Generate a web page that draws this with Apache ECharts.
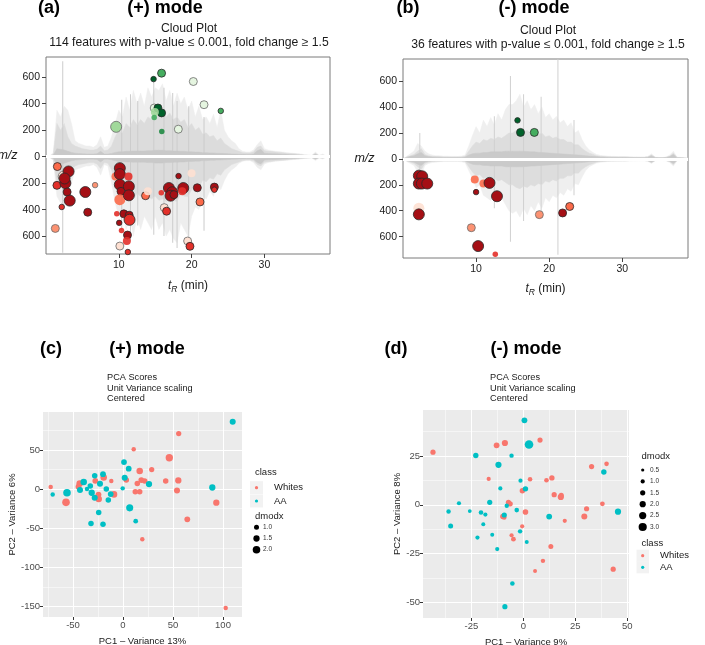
<!DOCTYPE html>
<html><head><meta charset="utf-8">
<script src="https://cdn.jsdelivr.net/npm/echarts@6/dist/echarts.min.js"></script>
<style>html,body{margin:0;padding:0;background:#fff}#c{width:705px;height:645px}</style>
</head><body><div id="c"></div>
<script>
// ---------- DATA ----------
// retention-time grid for the gray "cloud" traces (min)
const rtGrid = [0,0.5,1,1.5,2,2.5,3,3.5,4,4.5,5,5.5,6,6.5,7,7.5,8,8.5,9,9.5,10,10.5,11,11.5,12,12.5,13,13.5,14,14.5,15,15.5,16,16.5,17,17.5,18,18.5,19,19.5,20,20.5,21,21.5,22,22.5,23,23.5,24,24.5,25,25.5,26,26.5,27,27.5,28,28.5,29,29.5,30,30.5,31,31.5,32,32.5,33,33.5,34,34.5,35,35.5,36,36.5,37,37.5,38,38.5,39];
// panel (a) cloud envelopes
const outerUpA = [0,5,30,350,300,380,350,250,120,100,90,80,80,70,90,150,70,80,150,250,350,300,450,350,500,400,480,380,520,450,520,500,550,420,500,380,480,400,450,350,420,300,380,280,300,250,320,220,350,200,150,120,100,60,40,35,35,50,90,120,60,50,45,40,38,35,30,28,25,22,20,15,12,10,35,10,20,5,0];
const outerDnA = [0,5,30,300,350,380,300,200,100,90,80,70,70,60,80,140,60,70,200,350,450,400,550,450,600,450,550,450,500,550,450,550,500,600,550,620,650,500,550,600,450,380,400,300,320,260,300,200,250,180,130,100,80,50,35,30,30,45,80,100,55,45,40,35,32,30,28,25,22,20,18,14,12,10,30,10,18,5,0];
const innerUpA = [0,5,20,250,200,250,150,100,80,70,60,55,50,50,55,80,45,50,80,150,200,180,250,220,280,240,280,250,300,280,350,320,350,300,330,280,300,260,280,220,250,200,220,170,180,150,160,120,140,100,80,60,50,40,30,28,28,35,70,80,45,40,38,35,32,30,26,24,22,20,16,12,10,8,25,8,12,4,0];
const innerDnA = [0,5,20,200,220,250,150,100,70,60,55,50,45,45,55,90,45,50,100,200,260,240,300,260,320,280,300,270,300,320,300,330,320,340,320,330,340,280,300,300,250,220,230,180,190,160,170,130,140,100,80,60,50,40,30,26,26,32,60,70,42,38,35,32,30,28,25,22,20,18,15,12,10,8,22,8,12,4,0];
const baseA = [0,6,12,60,55,50,40,32,26,24,22,20,19,19,22,40,19,19,24,32,36,36,40,40,42,42,42,42,45,45,48,48,48,45,45,42,42,40,40,36,36,34,34,30,30,28,28,25,25,24,22,20,19,18,17,16,16,20,45,55,26,24,22,21,20,18,17,15,14,12,10,8,7,6,18,6,9,3,0];
const spikeRtA = [2.3, 10.4, 11.6, 12.6, 14.8, 16.2, 17.4, 18.0, 19.6, 21.7];
const spikeUpA = [720, 430, 470, 420, 590, 520, 480, 420, 380, 300];
const spikeDnA = [725, 560, 640, 520, 590, 600, 650, 690, 680, 560];
// panel (b) cloud envelopes
const outerUpB = [0,20,40,60,120,100,60,40,30,25,25,22,22,20,20,20,22,30,100,180,250,200,300,250,320,260,350,300,380,420,420,450,500,400,450,380,420,350,400,320,350,300,330,280,300,250,280,200,220,150,100,70,50,35,28,25,22,20,20,18,18,18,17,16,15,15,15,20,40,15,12,12,15,30,60,15,12,10,5];
const outerDnB = [0,20,35,50,100,120,50,35,28,25,22,20,20,20,20,20,22,30,90,150,220,200,280,300,320,280,330,300,350,400,420,400,450,380,430,360,400,330,380,300,330,280,300,260,280,230,250,190,200,140,90,60,45,32,26,23,20,18,18,17,17,17,16,15,15,14,14,18,35,14,12,12,14,28,55,14,12,10,5];
const innerB = [0,15,25,35,60,80,35,25,20,18,18,16,16,15,15,15,16,20,60,100,130,120,150,140,160,150,170,160,180,200,200,220,230,210,220,200,210,190,200,170,180,160,170,150,150,130,130,110,110,80,60,45,35,25,20,18,16,15,15,14,14,14,13,12,12,12,12,15,30,12,10,10,12,20,45,12,10,8,4];
const baseB = [0,12,20,25,40,50,25,18,15,14,13,12,12,12,12,12,12,15,30,40,45,45,50,50,55,55,55,55,60,60,60,60,60,60,58,55,55,52,50,48,46,44,42,40,38,36,34,32,30,28,25,22,20,18,16,15,14,14,13,13,13,13,12,12,12,12,12,14,25,12,10,10,12,18,35,10,10,8,4];
const spikeRtB = [2.3, 12.5, 14.7, 16.5, 18.9, 21.2, 23.4];
const spikeUpB = [200, 330, 640, 500, 480, 770, 300];
const spikeDnB = [150, 380, 640, 480, 420, 740, 280];

// significant features: [t_R (min), m/z, p-value size class 1-3, fold-change class 0-4, outlined 0/1]
const upA = [
 [14.77,585,1,4,1],[15.87,630,2,2,1],[20.23,567,2,0,1],[21.7,392,2,0,1],[24.0,345,1,2,1],
 [9.63,225,3,1,1],[18.17,207,2,0,1],[15.9,190,1,3,0],[14.86,367,2,0,1],[15.37,367,2,4,1],
 [15.87,330,2,4,1],[14.95,337,2,1,0],[14.86,295,1,2,0]
];
const downA = [
 [2.43,150,3,0,1],[1.56,75,2,2,1],[1.28,542,2,1,1],[2.16,380,1,3,1],[1.5,217,2,3,1],
 [2.66,200,3,4,1],[3.1,112,3,4,1],[2.55,165,3,4,1],[2.9,267,2,4,1],[3.26,332,3,4,1],
 [5.4,267,3,4,1],[5.73,420,2,4,1],[6.74,215,1,1,1],[9.54,150,2,2,0],[10.14,87,3,4,1],
 [10.14,132,3,4,1],[10.14,212,3,4,1],[10.3,262,2,4,1],[10.14,325,3,2,0],[11.33,150,2,3,0],
 [11.38,225,3,4,1],[11.38,292,3,4,1],[9.72,432,1,3,0],[10.69,432,2,4,1],[11.42,442,2,4,1],
 [11.47,477,3,3,1],[10.05,500,1,4,1],[10.37,557,1,3,0],[11.19,592,2,4,1],[11.1,637,2,3,0],
 [10.14,675,2,0,1],[11.24,720,1,3,1],[13.67,295,2,2,1],[13.99,262,2,0,0],[15.83,272,1,3,0],
 [16.24,385,2,0,1],[16.56,412,2,3,1],[16.88,237,3,4,1],[17.34,269,3,4,1],[17.11,295,3,4,1],
 [17.57,287,2,4,1],[18.2,147,1,4,1],[18.85,237,3,4,1],[18.7,262,2,3,0],[19.99,125,2,0,0],
 [20.78,235,2,4,1],[21.15,342,2,2,1],[19.45,637,2,0,1],[19.77,677,2,3,1],[23.12,230,2,4,1],
 [23.12,250,1,3,1]
];
const upB = [[15.67,298,1,4,1],[16.08,205,2,4,1],[17.97,205,2,2,1]];
const downB = [
 [2.17,380,3,0,0],[2.17,129,3,4,1],[2.63,134,3,4,1],[2.17,190,3,4,1],[2.58,190,3,4,1],
 [3.32,190,3,4,1],[2.17,428,3,4,1],[9.82,159,2,2,0],[11.01,190,2,2,0],[11.84,185,3,4,1],
 [10.0,256,1,4,1],[12.86,288,3,4,1],[9.35,531,2,1,1],[10.28,673,3,4,1],[12.63,736,1,3,0],
 [18.66,430,2,1,1],[21.84,417,2,4,1],[22.81,367,2,2,1]
];
const mzTicks = [-600,-400,-200,0,200,400,600];
const rtTicks = [10,20,30];

// PCA (+) mode
const whitesC_pc1 = [-72.3,-57,-43.3,-44.5,-27.7,-19.3,-24.3,-24.5,-9,-11.7,3.3,10.7,16.7,14.3,18.3,21.7,12.3,16.7,28.7,46.3,55.7,42.7,55.3,54,64.3,93.3,19.3,102.7];
const whitesC_pc2 = [2.6,-17,7.2,3,10.6,14.9,-12.8,-7,-6.8,10.2,11.5,51,23,7.2,11.5,10.2,-3.4,-3.4,25,40,71,10.2,11,-1.7,-38.7,-17.4,-64,-152];
const whitesC_dmodx = [0.8,2.0,1.6,1.3,1.3,1.6,1.6,1.3,1.6,0.8,1.2,0.8,1.6,1.2,1.3,1.2,1.2,1.2,1.1,1.9,1.1,1.2,1.5,1.4,1.3,1.5,0.8,0.8];
const aaC_pc1 = [-70.3,-56,-43,-39.3,-36,-32.7,-31.3,-28.3,-28.3,-24.3,-23,-20,-16.7,-14.7,-12.3,-32,-20,-0.3,1,1.7,5.7,6.7,12.7,26,89.3,109.7];
const aaC_pc2 = [-6.8,-4.7,-1.3,9,0,3.8,-4.7,17,-11,-30,6.8,19,0,-14,-6.4,-44,-45,0.9,34.5,14.5,26,-24,-41,6.4,2,86];
const aaC_dmodx = [0.8,2.0,1.4,1.6,0.8,1.2,1.5,1.2,1.4,1.2,1.4,1.3,1.2,1.2,1.3,1.2,1.2,0.8,1.3,1.4,1.3,1.8,0.9,1.5,1.5,1.4];
const xTicksC = [-50,0,50,100], xMinorC = [-75,-25,25,75];
const yTicksC = [-150,-100,-50,0,50], yMinorC = [-125,-75,-25,25,75];
const sizeBreaksC = [1.0,1.5,2.0];

// PCA (-) mode
const whitesD_pc1 = [-43.5,-12.9,-8.9,8,-16.7,3.2,11.1,13.7,-0.5,14.8,18,18.2,-7.2,-6.4,1,-9.9,-9.2,-0.6,-5.7,-4.8,13.2,9.4,5.6,19.9,29.3,30.4,32.8,38,40,43.2];
const whitesD_pc2 = [27,30.5,31.7,33.2,13.3,13.1,12.6,13.8,7.2,5.2,4,4.8,1.3,0.5,-3.7,-6,-6.5,-11,-15.6,-17.6,-21.3,-28.7,-33.9,-8.2,-6,-2,19.6,0.5,21,-33];
const whitesD_dmodx = [1.5,1.8,2.0,1.5,1.0,1.2,1.2,1.6,1.6,1.5,2.0,1.5,1.5,1.6,1.7,1.6,1.2,1.0,1.0,1.3,1.4,1.1,0.9,1.0,1.9,1.5,1.5,1.3,1.2,1.5];
const aaD_pc1 = [0.5,2.7,-22.9,-5.7,-12,-11.1,-1.4,1,-16.2,-31,-36,-25.8,-20.4,-18.3,-8,-9.2,-3.2,-19.3,-35,-15,-22.1,-1.6,1.6,-12.6,-5.3,-8.9,12.4,38.7,45.5];
const aaD_pc2 = [43.3,30.9,25.3,25.2,20.5,8.4,12.4,8.2,1.3,0.8,-3.4,-3.2,-3.9,-5,-0.5,-5.2,-2.7,-9.9,-10.9,-15.3,-16.8,-13.6,-19,-22.7,-40.3,-52.2,-6,16.8,-3.5];
const aaD_dmodx = [1.8,3.2,1.6,1.1,2.0,1.0,1.0,1.6,1.5,1.0,1.1,0.8,1.2,1.0,1.1,1.5,1.2,0.9,1.4,0.9,1.0,1.1,0.9,1.0,1.2,1.5,1.8,1.6,2.0];
const xTicksD = [-25,0,25,50], xMinorD = [-37.5,-12.5,12.5,37.5];
const yTicksD = [-50,-25,0,25], yMinorD = [-37.5,-12.5,12.5,37.5];
const sizeBreaksD = [0.5,1.0,1.5,2.0,2.5,3.0];
const classNames = ['Whites','AA'];

// ---------- STYLE ----------
const FF = '"Liberation Sans", Arial, Helvetica, sans-serif';
const upColors = ['#e5f5e0','#a1d99b','#45ad5f','#1f8a42','#00612a'];
const dnColors = ['#fee0d2','#fc9272','#fb6a4a','#e3302a','#a50f15'];
const ptSize = [0, 5.5, 8, 11];
const classColors = ['#F8766D','#00BFC4'];
const sizeC = d => 2.6*d + 2.4;
const sizeD = d => 2.0*d + 2.2;

const chart = echarts.init(document.getElementById('c'), null, {renderer:'canvas'});

function area(g, arr, sign, color, z){
  return {type:'line', xAxisIndex:g, yAxisIndex:g, data: rtGrid.map((t,i)=>[t, sign*arr[i]]),
    symbol:'none', silent:true, lineStyle:{width:0.5, color:color}, areaStyle:{color:color, opacity:1}, z:z, animation:false};
}
function spikes(g, rts, vals, sign, color){
  return {type:'bar', xAxisIndex:g, yAxisIndex:g, stack:'sp'+g, barWidth:1, silent:true,
    data: rts.map((t,i)=>[t, sign*vals[i]]), itemStyle:{color:color}, z:2, animation:false};
}
function cloudPts(g, rows, colors, sign){
  return {type:'scatter', xAxisIndex:g, yAxisIndex:g, z:6, animation:false,
    data: rows.map(r=>({value:[r[0], sign*r[1]], symbolSize: ptSize[r[2]],
      itemStyle:{color: colors[r[3]], opacity: r[4]?1:0.9,
        borderColor: r[4] ? (r[3]<=1 ? '#6a6a6a' : '#2a2a2a') : 'rgba(0,0,0,0)', borderWidth: r[4]?0.8:0}}))};
}
function centerLine(g){
  return {type:'line', xAxisIndex:g, yAxisIndex:g, data:[], z:5, silent:true,
    markLine:{silent:true, symbol:'none', label:{show:false}, animation:false,
      lineStyle:{color:'#ffffff', width:3, type:'solid'}, data:[{yAxis:0}]}};
}
function pcaPts(g, xs, ys, ds, col, fn, name){
  return {type:'scatter', name:name, xAxisIndex:g, yAxisIndex:g, z:6, animation:false,
    data: xs.map((x,i)=>({value:[x, ys[i]], symbolSize: fn(ds[i])})), itemStyle:{color:col, opacity:1}};
}

const cloudX = (g, min, max, gap) => ({gridIndex:g, type:'value', min:min, max:max,
  axisLine:{show:false, onZero:false},
  axisTick:{show:true, length:4, lineStyle:{color:'#444'}, customValues:rtTicks},
  axisLabel:{customValues:rtTicks, fontSize:10.5, color:'#1a1a1a', fontFamily:FF, margin:6},
  splitLine:{show:false},
  name:'{t|t}{s|R}{n| (min)}', nameLocation:'middle', nameGap:gap,
  nameTextStyle:{rich:{t:{fontStyle:'italic', fontSize:12, fontFamily:FF, color:'#1a1a1a'},
    s:{fontStyle:'italic', fontSize:8.5, fontFamily:FF, color:'#1a1a1a', padding:[8,0,0,0]},
    n:{fontSize:12, fontFamily:FF, color:'#1a1a1a'}}}});
const cloudY = (g, min, max) => ({gridIndex:g, type:'value', min:min, max:max,
  axisLine:{show:false, onZero:false},
  axisTick:{show:true, length:4, lineStyle:{color:'#444'}, customValues:mzTicks},
  axisLabel:{customValues:mzTicks, fontSize:10.5, color:'#1a1a1a', fontFamily:FF, margin:6, formatter:v=>String(Math.abs(v))},
  splitLine:{show:false},
  name:'m/z', nameLocation:'middle', nameRotate:0, nameGap:27,
  nameTextStyle:{fontStyle:'italic', fontSize:12.5, fontFamily:FF, color:'#1a1a1a'}});

const pcaAxis = (dim, g, min, max, ticks, name, gap) => ({gridIndex:g, type:'value', min:min, max:max,
  position: dim==='x' ? 'bottom' : 'left',
  axisLine:{show:false, onZero:false},
  axisTick:{show:true, length:3, lineStyle:{color:'#333'}, customValues:ticks},
  axisLabel:{customValues:ticks, fontSize:9.5, color:'#4d4d4d', fontFamily:FF, margin:3},
  splitLine:{show:true, lineStyle:{color:'#ffffff', width:1.1}},
  name:name, nameLocation:'middle', nameGap:gap, nameRotate: dim==='x'?0:90,
  nameTextStyle:{fontSize:9.5, fontFamily:FF, color:'#1a1a1a'}});
const pcaMinor = (dim, g, min, max, ticks) => ({gridIndex:g, type:'value', min:min, max:max,
  position: dim==='x' ? 'bottom' : 'left',
  axisLine:{show:false, onZero:false}, axisTick:{show:false, customValues:ticks},
  axisLabel:{show:false, customValues:ticks},
  splitLine:{show:true, lineStyle:{color:'#ffffff', width:0.5}}});

function txt(x, y, s, size, extra){
  return {type:'text', x:x, y:y, silent:true, z:100,
    style:Object.assign({text:s, fill:'#000', fontSize:size, fontFamily:FF,
      textAlign:'left', align:'left', textVerticalAlign:'middle', verticalAlign:'middle'}, extra||{})};
}
const B = {fontWeight:'bold'}, C = {textAlign:'center', align:'center'};
const T = {fill:'#1a1a1a'};
const graphics = [
  txt(49,8,'(a)',18,Object.assign({},B,C)), txt(165,8,'(+) mode',18,Object.assign({},B,C)),
  txt(189,28.5,'Cloud Plot',12.2,Object.assign({},T,C)),
  txt(189,42.5,'114 features with p-value \u2264 0.001, fold change \u2265 1.5',12.2,Object.assign({},T,C)),
  txt(408,8,'(b)',18,Object.assign({},B,C)), txt(534,8,'(-) mode',18,Object.assign({},B,C)),
  txt(548,31,'Cloud Plot',12.2,Object.assign({},T,C)),
  txt(548,44.5,'36 features with p-value \u2264 0.001, fold change \u2265 1.5',12.2,Object.assign({},T,C)),
  txt(51,349,'(c)',18,Object.assign({},B,C)), txt(147,349,'(+) mode',18,Object.assign({},B,C)),
  txt(107,377,'PCA Scores',9.2,T), txt(107,388,'Unit Variance scaling',9.2,T), txt(107,398.5,'Centered',9.2,T),
  txt(396,349,'(d)',18,Object.assign({},B,C)), txt(526,349,'(-) mode',18,Object.assign({},B,C)),
  txt(490,377,'PCA Scores',9.2,T), txt(490,388,'Unit Variance scaling',9.2,T), txt(490,398.5,'Centered',9.2,T)
];
// legend (c): class then dmodx
graphics.push(txt(255,472.7,'class',9.5,T));
classNames.forEach((n,i)=>{
  const cy = 487.7 + i*13.3;
  graphics.push({type:'rect', shape:{x:250, y:cy-6.5, width:13, height:13}, style:{fill:'#f2f2f2'}, silent:true});
  graphics.push({type:'circle', shape:{cx:256.5, cy:cy, r:1.6}, style:{fill:classColors[i]}, silent:true});
  graphics.push(txt(274,cy,n,9.5,T));
});
graphics.push(txt(255,516.7,'dmodx',9.5,T));
sizeBreaksC.forEach((d,i)=>{
  const cy = 527.3 + i*11.2;
  graphics.push({type:'circle', shape:{cx:256.5, cy:cy, r:sizeC(d)/2}, style:{fill:'#000'}, silent:true});
  graphics.push(txt(263,cy,d.toFixed(1),6.5,{fill:'#333'}));
});
// legend (d): dmodx then class
graphics.push(txt(641.5,456.7,'dmodx',9.5,T));
sizeBreaksD.forEach((d,i)=>{
  const cy = 470 + i*11.4;
  graphics.push({type:'circle', shape:{cx:642.7, cy:cy, r:sizeD(d)/2}, style:{fill:'#000'}, silent:true});
  graphics.push(txt(650,cy,d.toFixed(1),6.5,{fill:'#333'}));
});
graphics.push(txt(641.5,543.3,'class',9.5,T));
classNames.forEach((n,i)=>{
  const cy = 555.7 + i*11.6;
  graphics.push({type:'rect', shape:{x:636.5, y:cy-6, width:12.5, height:12}, style:{fill:'#f2f2f2'}, silent:true});
  graphics.push({type:'circle', shape:{cx:642.7, cy:cy, r:1.6}, style:{fill:classColors[i]}, silent:true});
  graphics.push(txt(660,cy,n,9.5,T));
});

const gridBase = {containLabel:false, outerBoundsMode:'none'};
const option = {
  animation:false,
  backgroundColor:'#ffffff',
  textStyle:{fontFamily:FF},
  grid:[
    Object.assign({left:46, top:57, width:284, height:197, show:true, borderColor:'#7a7a7a', borderWidth:1, backgroundColor:'#fff'}, gridBase),
    Object.assign({left:403, top:59, width:285, height:199, show:true, borderColor:'#7a7a7a', borderWidth:1, backgroundColor:'#fff'}, gridBase),
    Object.assign({left:43, top:412, width:199, height:205, show:true, borderWidth:0, backgroundColor:'#ebebeb'}, gridBase),
    Object.assign({left:423, top:410, width:206, height:208, show:true, borderWidth:0, backgroundColor:'#ebebeb'}, gridBase)
  ],
  xAxis:[
    cloudX(0, 0, 39, 23),
    cloudX(1, 0, 39, 22),
    pcaAxis('x', 2, -80, 119, xTicksC, 'PC1 \u2013 Variance 13%', 19),
    pcaAxis('x', 3, -48.3, 50.8, xTicksD, 'PC1 \u2013 Variance 9%', 19),
    pcaMinor('x', 2, -80, 119, xMinorC),
    pcaMinor('x', 3, -48.3, 50.8, xMinorD)
  ],
  yAxis:[
    cloudY(0, -735, 752),
    cloudY(1, -765, 772),
    pcaAxis('y', 2, -163.5, 98.5, yTicksC, 'PC2 \u2013 Variance 6%', 19),
    pcaAxis('y', 3, -58, 48.6, yTicksD, 'PC2 \u2013 Variance 8%', 3),
    pcaMinor('y', 2, -163.5, 98.5, yMinorC),
    pcaMinor('y', 3, -58, 48.6, yMinorD)
  ],
  series:[
    area(0, outerUpA, 1, '#eeeeee', 1), area(0, outerDnA, -1, '#eeeeee', 1),
    area(0, innerUpA, 1, '#dcdcdc', 2), area(0, innerDnA, -1, '#dcdcdc', 2),
    spikes(0, spikeRtA, spikeUpA, 1, '#cccccc'), spikes(0, spikeRtA, spikeDnA, -1, '#cccccc'),
    area(0, baseA, 1, '#c9c9c9', 3), area(0, baseA, -1, '#c9c9c9', 3),
    centerLine(0),
    cloudPts(0, upA, upColors, 1), cloudPts(0, downA, dnColors, -1),

    area(1, outerUpB, 1, '#efefef', 1), area(1, outerDnB, -1, '#efefef', 1),
    area(1, innerB, 1, '#dddddd', 2), area(1, innerB, -1, '#dddddd', 2),
    spikes(1, spikeRtB, spikeUpB, 1, '#d0d0d0'), spikes(1, spikeRtB, spikeDnB, -1, '#d0d0d0'),
    area(1, baseB, 1, '#cacaca', 3), area(1, baseB, -1, '#cacaca', 3),
    centerLine(1),
    cloudPts(1, upB, upColors, 1), cloudPts(1, downB, dnColors, -1),

    pcaPts(2, whitesC_pc1, whitesC_pc2, whitesC_dmodx, classColors[0], sizeC, 'Whites'),
    pcaPts(2, aaC_pc1, aaC_pc2, aaC_dmodx, classColors[1], sizeC, 'AA'),
    pcaPts(3, whitesD_pc1, whitesD_pc2, whitesD_dmodx, classColors[0], sizeD, 'Whites'),
    pcaPts(3, aaD_pc1, aaD_pc2, aaD_dmodx, classColors[1], sizeD, 'AA')
  ],
  graphic: graphics
};
chart.setOption(option);
</script></body></html>
